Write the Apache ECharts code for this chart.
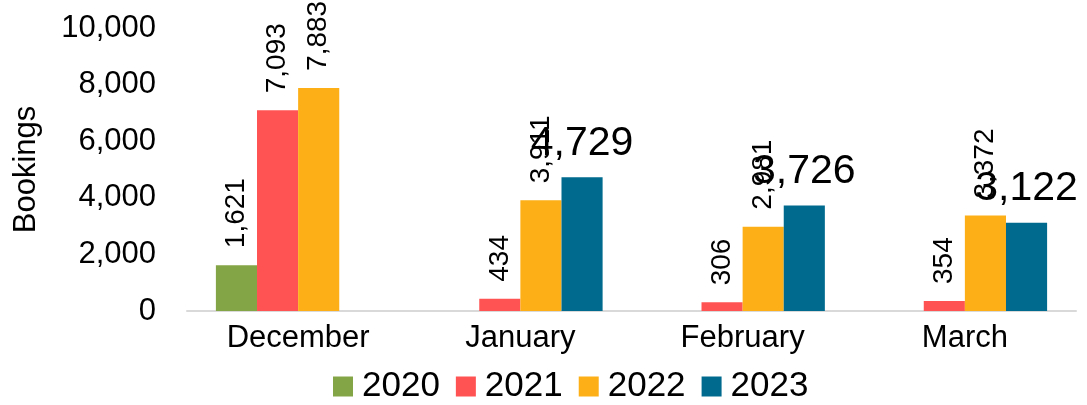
<!DOCTYPE html>
<html>
<head>
<meta charset="utf-8">
<script src="https://cdn.jsdelivr.net/npm/echarts@6/dist/echarts.min.js"></script>
<style>
  html, body { margin: 0; padding: 0; background: #fff; }
  #main { width: 1087px; height: 405px; }
</style>
</head>
<body>
<div id="main"></div>
<script>
const months = ['December', 'January', 'February', 'March'];
const years = ['2020', '2021', '2022', '2023'];
const bookings2020 = [1621, null, null, null];
const bookings2021 = [7093, 434, 306, 354];
const bookings2022 = [7883, 3911, 2981, 3372];
const bookings2023 = [null, 4729, 3726, 3122];
const yTicks = [0, 2000, 4000, 6000, 8000, 10000];

const colors = ['#84A545', '#FF5353', '#FDAF17', '#006A8E'];
const fmt = p => p.value == null ? '' : p.value.toLocaleString('en-US');

const myChart = echarts.init(document.getElementById('main'));

// vertical labels for the first three years, big flat labels for 2023
function makeSeries(name, data, idx) {
    const flat = idx === 3;
    return {
        name: name,
        type: 'bar',
        data: data,
        barGap: '0%',
        barCategoryGap: '26%',
        itemStyle: { color: colors[idx] },
        label: flat ? {
            show: true,
            position: 'top',
            distance: 13,
            fontSize: 41,
            color: '#000',
            fontFamily: 'Liberation Sans',
            formatter: fmt
        } : {
            show: true,
            position: 'top',
            rotate: 90,
            align: 'left',
            verticalAlign: 'middle',
            distance: 17,
            fontSize: 28,
            color: '#000',
            fontFamily: 'Liberation Sans',
            formatter: fmt
        }
    };
}

const option = {
    textStyle: { fontFamily: 'Liberation Sans' },
    grid: { left: 187, right: 11, top: 28, bottom: 94 },
    legend: {
        left: 328,
        bottom: -4,
        itemWidth: 20,
        itemHeight: 20,
        itemGap: 16,
        icon: 'rect',
        textStyle: { fontSize: 35, color: '#000', fontFamily: 'Liberation Sans', padding: [0, 0, 0, 4] },
        data: years
    },
    xAxis: {
        type: 'category',
        data: months,
        axisTick: { show: false },
        axisLine: { lineStyle: { color: '#d9d9d9', width: 2 } },
        axisLabel: { fontSize: 31, color: '#000', margin: 12 }
    },
    yAxis: {
        type: 'value',
        min: yTicks[0],
        max: yTicks[yTicks.length - 1],
        interval: 2000,
        name: 'Bookings',
        nameLocation: 'middle',
        nameRotate: 90,
        nameGap: 145,
        nameTextStyle: { fontSize: 31, color: '#000' },
        splitLine: { show: false },
        axisLine: { show: false },
        axisTick: { show: false },
        axisLabel: {
            fontSize: 31,
            color: '#000',
            margin: 31,
            formatter: v => v.toLocaleString('en-US')
        }
    },
    series: [
        makeSeries(years[0], bookings2020, 0),
        makeSeries(years[1], bookings2021, 1),
        makeSeries(years[2], bookings2022, 2),
        makeSeries(years[3], bookings2023, 3)
    ]
};

myChart.setOption(option);
</script>
</body>
</html>
